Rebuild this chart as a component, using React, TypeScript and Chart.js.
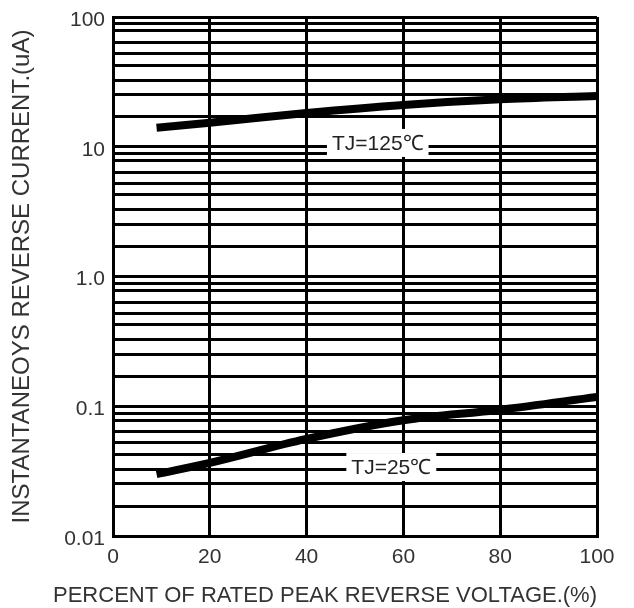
import React, { useEffect, useRef } from "react";
import { Chart, registerables } from "chart.js";

Chart.register(...registerables);

// X positions (percent of rated peak reverse voltage)
const voltagePct = [9, 20, 40, 60, 80, 100];
// Reverse current (uA) at TJ = 125°C
const current125 = [14, 15.3, 18.2, 21, 23.2, 24.6];
// Reverse current (uA) at TJ = 25°C
const current25 = [0.03, 0.0366, 0.056, 0.078, 0.094, 0.118];

// Axis ticks
const xTicks = [0, 20, 40, 60, 80, 100];
const yDecades = [0.01, 0.1, 1, 10, 100];
const yDecadeLabels = ["0.01", "0.1", "1.0", "10", "100"];
// minor horizontal rules inside each decade, as drawn on the reference
const yMinorMultipliers = [1.7, 2.52, 3.26, 4.25, 5.21, 6.34, 7.83, 8.87];

// Titles
const xTitle = "PERCENT OF RATED PEAK REVERSE VOLTAGE.(%)";
const yTitle = "INSTANTANEOYS REVERSE CURRENT.(uA)";

// Curve labels
const curveLabelText = ["TJ=125\u2103", "TJ=25\u2103"];
const curveLabelX = [54.7, 57.5];
const curveLabelY = [10.7, 0.034];

const FONT = '"Liberation Sans", Arial, sans-serif';

const yGridValues: number[] = [];
yDecades.forEach((d, i) => {
  yGridValues.push(d);
  if (i < yDecades.length - 1) yMinorMultipliers.forEach((m) => yGridValues.push(d * m));
});

const curveLabelsPlugin = {
  id: "curveLabels",
  afterDatasetsDraw(chart: any) {
    const { ctx, scales, chartArea } = chart;
    const x = scales.x;
    const y = scales.y;
    ctx.save();
    ctx.font = `21px ${FONT}`;
    ctx.textAlign = "center";
    ctx.textBaseline = "middle";
    curveLabelText.forEach((t, i) => {
      const px = x.getPixelForValue(curveLabelX[i]);
      const py = y.getPixelForValue(curveLabelY[i]);
      const w = ctx.measureText(t).width;
      ctx.fillStyle = "#ffffff";
      ctx.fillRect(px - w / 2 - 5, py - 14, w + 10, 28);
      ctx.fillStyle = "#222222";
      ctx.fillText(t, px, py + 1);
    });
    // x axis title, right-aligned with the plot frame
    ctx.font = `22px ${FONT}`;
    ctx.fillStyle = "#333";
    ctx.textAlign = "right";
    ctx.fillText(xTitle, chartArea.right, 596);
    ctx.restore();
  },
};

export default function App() {
  const ref = useRef<HTMLCanvasElement | null>(null);

  useEffect(() => {
    if (!ref.current) return;
    const chart = new Chart(ref.current, {
      type: "line",
      data: {
        datasets: [
          {
            label: "TJ=125",
            data: voltagePct.map((v, i) => ({ x: v, y: current125[i] })),
            borderColor: "#000",
            borderWidth: 8,
            pointRadius: 0,
            tension: 0.35,
            borderCapStyle: "butt",
            fill: false,
          },
          {
            label: "TJ=25",
            data: voltagePct.map((v, i) => ({ x: v, y: current25[i] })),
            borderColor: "#000",
            borderWidth: 8,
            pointRadius: 0,
            tension: 0.35,
            borderCapStyle: "butt",
            fill: false,
          },
        ],
      },
      options: {
        responsive: false,
        animation: false,
        layout: { padding: { left: 0, right: 37, top: 17, bottom: 0 } },
        plugins: { legend: { display: false }, tooltip: { enabled: false } },
        scales: {
          x: {
            type: "linear",
            min: 0,
            max: 100,
            afterBuildTicks: (s: any) => {
              s.ticks = xTicks.map((v) => ({ value: v }));
            },
            afterFit: (s: any) => {
              s.height = 72;
              s.paddingLeft = 0;
              s.paddingRight = 0;
            },
            grid: { color: "#000", lineWidth: 3, drawTicks: false },
            border: { display: true, color: "#000", width: 3 },
            ticks: {
              padding: 9,
              color: "#333",
              font: { family: FONT, size: 21 },
              maxRotation: 0,
              autoSkip: false,
            },
            title: { display: false },
          },
          y: {
            type: "logarithmic",
            min: 0.01,
            max: 100,
            afterBuildTicks: (s: any) => {
              s.ticks = yGridValues.map((v) => ({ value: v }));
            },
            afterFit: (s: any) => {
              s.width = 113;
              s.paddingTop = 0;
              s.paddingBottom = 0;
            },
            grid: { color: "#000", lineWidth: 3, drawTicks: false },
            border: { display: true, color: "#000", width: 3 },
            ticks: {
              padding: 8,
              labelOffset: 3,
              color: "#333",
              font: { family: FONT, size: 21 },
              autoSkip: false,
              callback: (value: any) => {
                const idx = yDecades.findIndex((d) => Math.abs(d - Number(value)) / d < 1e-6);
                return idx >= 0 ? yDecadeLabels[idx] : "";
              },
            },
            title: {
              display: true,
              text: yTitle,
              color: "#333",
              font: { family: FONT, size: 24 },
              padding: { top: 8, bottom: 0 },
            },
          },
        },
      },
      plugins: [curveLabelsPlugin],
    } as any);
    return () => chart.destroy();
  }, []);

  return (
    <div style={{ position: "absolute", left: 0, top: 0, width: 634, height: 608, background: "#fff" }}>
      <canvas ref={ref} width={634} height={608} style={{ width: 634, height: 608 }} />
    </div>
  );
}
